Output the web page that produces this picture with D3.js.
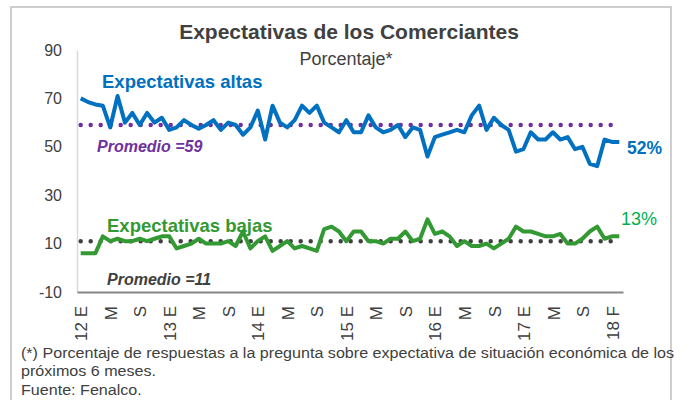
<!DOCTYPE html>
<html>
<head>
<meta charset="utf-8">
<script src="https://cdn.jsdelivr.net/npm/d3@7"></script>
<style>
  body { margin: 0; background: #fff; }
  text { font-family: "Liberation Sans", Arial, sans-serif; }
</style>
</head>
<body>
<script>
// monthly series, Jan 2012 .. Feb 2018
var altas = [70, 68.5, 67.5, 67, 58, 71, 60, 64, 59, 64, 60, 62,
             57, 58, 61, 59, 57.5, 59, 61, 57, 60, 59, 55, 58,
             65, 53, 67, 60, 58, 61, 67, 64, 67, 60, 58, 56,
             61, 56, 56, 63, 58, 56, 57, 59, 54, 58, 57, 46,
             54, 55, 56, 57, 56, 63, 67, 57, 62, 59, 57, 48,
             49, 56, 53, 53, 56, 53, 54, 49, 50, 43, 42, 53,
             52, 52]
var bajas = [6, 6, 6, 13, 11, 12, 11, 11, 12, 11, 12, 13,
             13, 8, 9, 10, 12, 10, 10, 10, 11, 9, 15, 8,
             11, 13, 7, 9, 11, 8, 9, 8, 7, 16, 17, 15,
             11, 15, 15, 11, 11, 10, 12, 12, 15, 11, 12, 20,
             14, 15, 13, 9, 11, 9, 9, 10, 8, 10, 12, 17,
             15, 15, 14, 13, 13, 14, 10, 10, 12, 15, 17, 12,
             13, 13]
var promedioAltas = 59
var promedioBajas = 11
var tickLabels = ["12 E", "M", "S", "13 E", "M", "S", "14 E", "M", "S",
                  "15 E", "M", "S", "16 E", "M", "S", "17 E", "M", "S", "18 F"]
var yTicks = [-10, 10, 30, 50, 70, 90]

var blue = "#0070c0", purple = "#7030a0", green = "#339933", grey = "#404040"

var svg = d3.select("body").append("svg")
    .attr("width", 689)
    .attr("height", 400)

// frame
svg.append("path")
    .attr("d", "M11,400V7H671V400")
    .attr("fill", "none")
    .style("stroke", "#bfbfbf")
    .style("stroke-width", 1.5)

var x = d3.scalePoint()
    .domain(d3.range(altas.length))
    .range([77, 623])
    .padding(0.5)

var y = d3.scaleLinear()
    .domain([-10, 90])
    .range([292, 50])

svg.append("text")
    .attr("x", 349).attr("y", 39)
    .attr("text-anchor", "middle")
    .style("font-size", "21px").style("font-weight", "bold")
    .attr("fill", grey)
    .text("Expectativas de los Comerciantes")

svg.append("text")
    .attr("x", 346).attr("y", 65)
    .attr("text-anchor", "middle")
    .style("font-size", "18px")
    .attr("fill", grey)
    .text("Porcentaje*")

// y axis
var yAxis = svg.append("g")
    .attr("transform", "translate(77,0)")
    .call(d3.axisLeft(y).tickValues(yTicks).tickSize(0).tickPadding(15)
        .tickFormat(function (d) { return String(d) }))
yAxis.select(".domain").style("stroke", "#d9d9d9").style("stroke-width", 1.5)
yAxis.selectAll("text").style("font-size", "16px").attr("fill", grey)

// x axis
var tickIdx = tickLabels.map(function (d, i) { return i * 4 })
var xAxis = svg.append("g")
    .attr("transform", "translate(0," + y(-10) + ")")
    .call(d3.axisBottom(x).tickValues(tickIdx).tickSize(0)
        .tickFormat(function (d) { return tickLabels[d / 4] }))
xAxis.select(".domain").style("stroke", "#868686").style("stroke-width", 2)
xAxis.selectAll("text")
    .style("font-size", "17px")
    .attr("fill", grey)
    .attr("text-anchor", "end")
    .attr("transform", "rotate(-90)")
    .attr("x", -14).attr("y", 0).attr("dy", "0.36em")

// average lines
function dotted(v, color) {
    svg.append("line")
        .attr("x1", x(0)).attr("x2", x(altas.length - 1))
        .attr("y1", y(v)).attr("y2", y(v))
        .style("stroke", color)
        .style("stroke-width", 4.5)
        .style("stroke-linecap", "round")
        .style("stroke-dasharray", "0 10")
}
dotted(promedioAltas, purple)
dotted(promedioBajas, grey)

var line = d3.line()
    .x(function (d, i) { return x(i) })
    .y(function (d) { return y(d) })

svg.append("path").datum(altas)
    .attr("d", line)
    .attr("fill", "none")
    .style("stroke", blue).style("stroke-width", 4)
    .style("stroke-linejoin", "round")

svg.append("path").datum(bajas)
    .attr("d", line)
    .attr("fill", "none")
    .style("stroke", green).style("stroke-width", 4)
    .style("stroke-linejoin", "round")

// labels
function label(txt, xx, yy, size, color, weight, italic) {
    return svg.append("text")
        .attr("x", xx).attr("y", yy)
        .style("font-size", size + "px")
        .style("font-weight", weight)
        .style("font-style", italic ? "italic" : "normal")
        .attr("fill", color)
        .text(txt)
}
label("Expectativas altas", 102, 88, 18.5, blue, "bold")
label("Promedio =" + promedioAltas, 97, 152, 16, purple, "bold", true)
label("Expectativas bajas", 107, 232, 18.5, green, "bold")
label("Promedio =" + promedioBajas, 107, 285, 16, grey, "bold", true)
label(altas[altas.length - 1] + "%", 627, 154, 17.5, blue, "bold")
label(bajas[bajas.length - 1] + "%", 621, 225, 18, "#00b050", "normal")

// footnote
var notes = ["(*) Porcentaje de respuestas a la pregunta sobre expectativa de situación económica de los",
             "próximos 6 meses.",
             "Fuente: Fenalco."]
var foot = svg.append("g")
var footText = foot.selectAll("text")
    .data(notes)
    .enter()
    .append("text")
    .attr("x", 0)
    .attr("y", function (d, i) { return 358 + i * 18.5 })
    .style("font-size", "15px")
    .attr("fill", grey)
    .text(function (d) { return d })
var w = footText.node().getComputedTextLength()
foot.attr("transform", "translate(21,0) scale(" + (654 / w) + ",1)")
</script>
</body>
</html>
